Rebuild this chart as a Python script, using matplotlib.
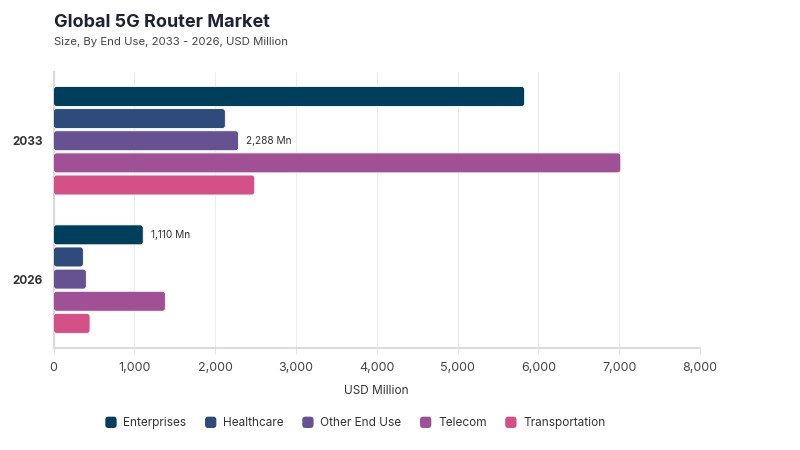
import matplotlib
matplotlib.use("Agg")
import matplotlib.pyplot as plt
from matplotlib.patches import FancyBboxPatch, Patch
from matplotlib.legend_handler import HandlerPatch
import numpy as np

plt.rcParams['font.family'] = ['Inter', 'DejaVu Sans']

years = ["2026", "2033"]
segments = ["Enterprises", "Healthcare", "Other End Use", "Telecom", "Transportation"]
enterprises = [1110, 5830]
healthcare = [369, 2126]
other_end_use = [406, 2288]
telecom = [1384, 7020]
transportation = [452, 2490]
series = [enterprises, healthcare, other_end_use, telecom, transportation]
colors = ["#003f5c", "#2f4b7c", "#665191", "#a05195", "#d45087"]
labels = {("Other End Use", 1): "2,288 Mn", ("Enterprises", 0): "1,110 Mn"}

fig = plt.figure(figsize=(8, 4.5), dpi=100)
ax = fig.add_axes([0.0669, 0.226, 0.8081, 0.615])

n = len(segments)
step = 0.16
h = 0.144
y0 = np.arange(len(years))
px_x = 8000 / 646.5
px_y = 2.0 / 276.8
for i, (seg, vals, c) in enumerate(zip(segments, series, colors)):
    ypos = y0 + (n - 1) / 2 * step - i * step
    bars = ax.barh(ypos, vals, height=h, color=c, label=seg)
    for j, b in enumerate(bars):
        x, y, w, hh = b.get_x(), b.get_y(), b.get_width(), b.get_height()
        b.set_visible(False)
        r = 3 * px_x
        p = FancyBboxPatch((x, y), w, hh,
                           boxstyle=f"round,pad=0,rounding_size={r}",
                           mutation_aspect=px_y / px_x,
                           facecolor=c, edgecolor="white", linewidth=0.6, zorder=3)
        ax.add_patch(p)
        if (seg, j) in labels:
            ax.text(w + 8 * px_x, y + hh / 2, labels[(seg, j)], va="center", ha="left",
                    fontsize=7.3, color="#333333")

ax.set_xlim(0, 8000)
ax.set_ylim(-0.5, 1.5)
ax.set_yticks(y0)
ax.set_yticklabels(years, fontsize=8.5, fontweight="bold", color="#333333")
xt = np.arange(0, 8001, 1000)
ax.set_xticks(xt)
ax.set_xticklabels([f"{v:,}" for v in xt], fontsize=9, color="#444444")
ax.tick_params(axis="y", length=0, pad=8)
ax.tick_params(axis="x", length=4, color="#e6e6e6", pad=6)
ax.grid(axis="x", color="#ececec", linewidth=0.8, zorder=0)
ax.set_axisbelow(True)
for s in ["top", "right"]:
    ax.spines[s].set_visible(False)
ax.spines["left"].set_color("#d9d9d9")
ax.spines["bottom"].set_color("#dcdcdc")
ax.spines["left"].set_linewidth(1.5)
ax.spines["bottom"].set_linewidth(1.5)
ax.set_xlabel("USD Million", fontsize=8.5, color="#333333", labelpad=8)

fig.text(0.0675, 0.949, "Global 5G Router Market", fontsize=13, fontweight="bold",
         color="#1f2237", ha="left", va="center")
fig.text(0.0675, 0.907, "Size, By End Use, 2033 - 2026, USD Million", fontsize=8.2,
         color="#444444", ha="left", va="center")


class RoundHandler(HandlerPatch):
    def create_artists(self, legend, orig_handle, xdescent, ydescent, width, height,
                       fontsize, trans):
        s = min(width, height)
        p = FancyBboxPatch((-xdescent + (width - s) / 2, -ydescent + (height - s) / 2), s, s,
                           boxstyle=f"round,pad=0,rounding_size={s * 0.28}",
                           facecolor=orig_handle.get_facecolor(), edgecolor="none",
                           transform=trans)
        return [p]


handles = [Patch(facecolor=c, edgecolor="none") for c in colors]
fig.legend(handles, segments, loc="center", bbox_to_anchor=(355 / 800, 1 - 423 / 450),
           ncol=5, frameon=False, fontsize=8.5, handlelength=1.1, handleheight=1.1,
           columnspacing=1.5, handletextpad=0.5, labelcolor="#333333",
           handler_map={Patch: RoundHandler()})

fig.savefig("out.png", dpi=100)
